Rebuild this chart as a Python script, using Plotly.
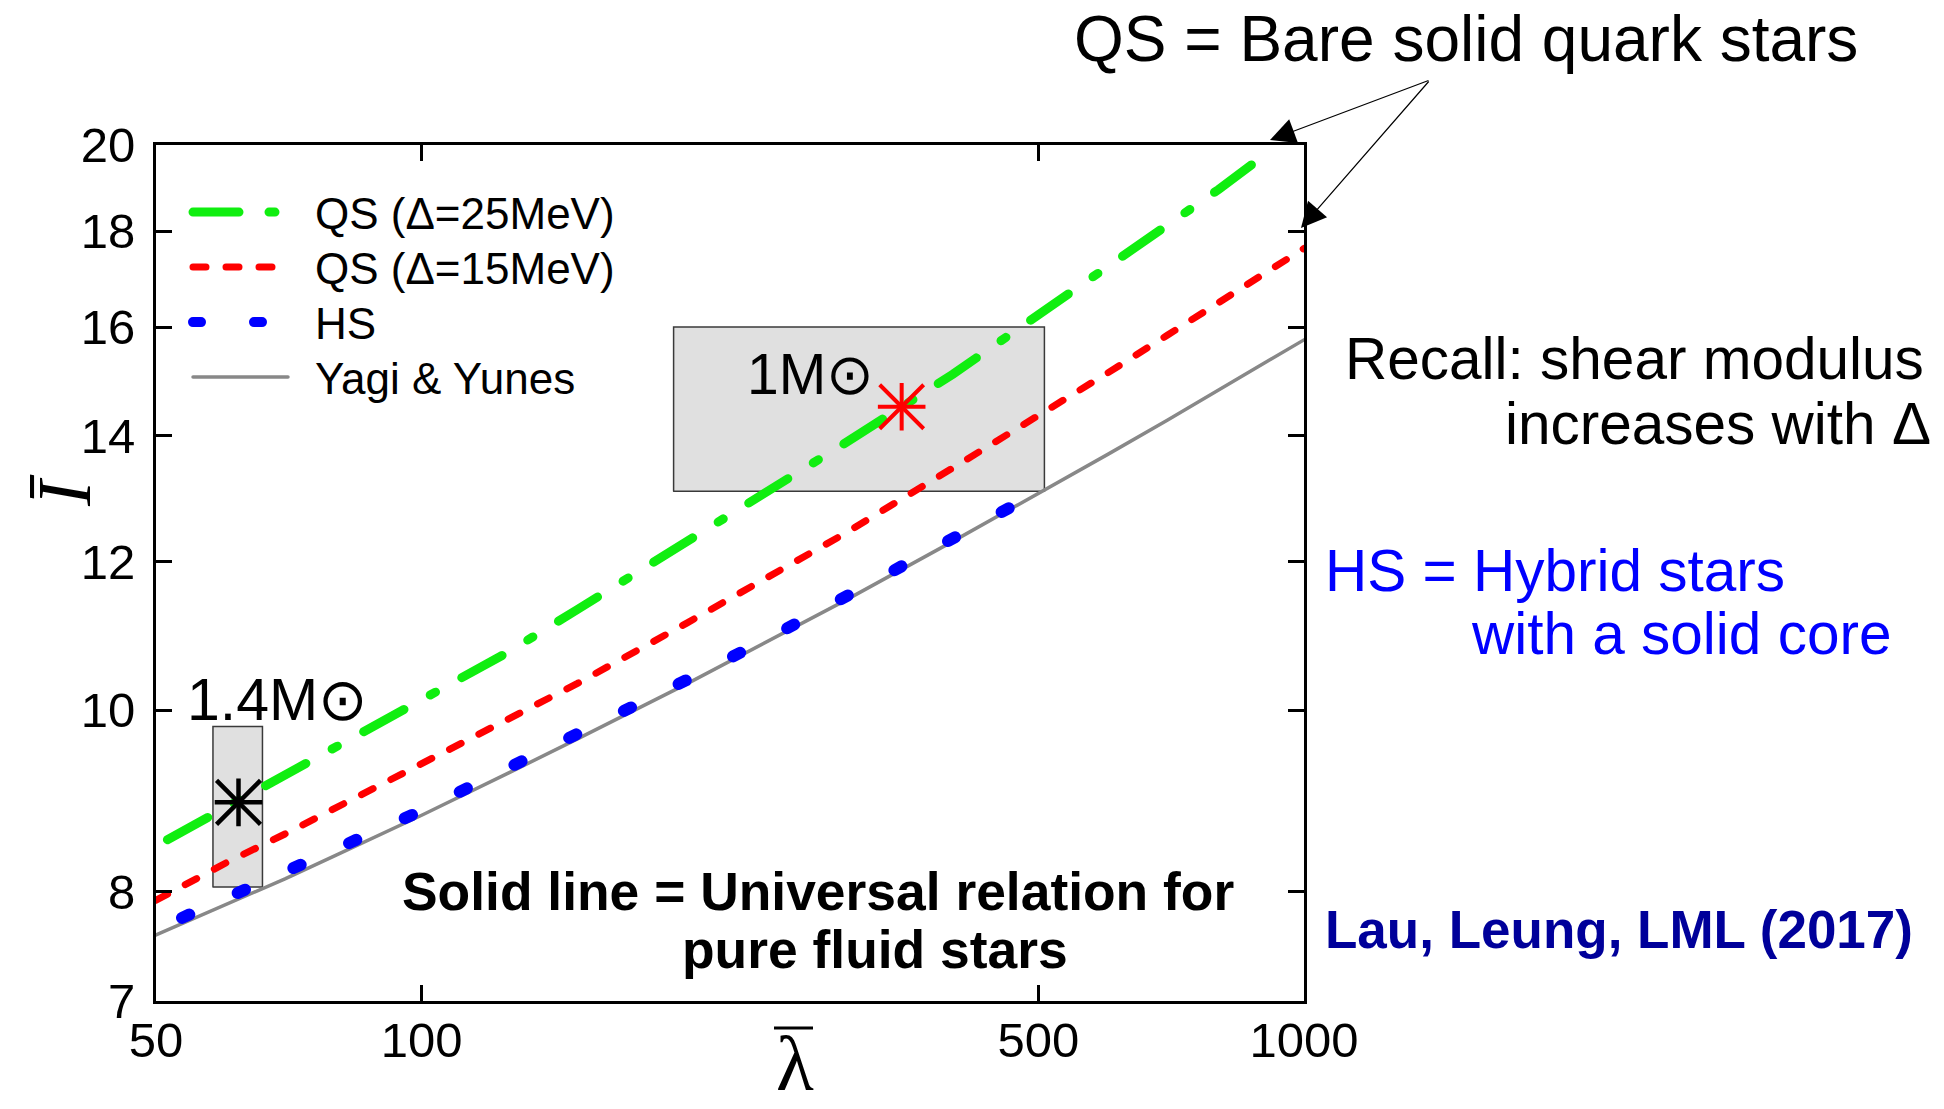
import math
import plotly.graph_objects as go

# ---------------------------------------------------------------------------
# Moment of inertia (I bar) versus tidal deformability (lambda bar)
# ---------------------------------------------------------------------------

# Yagi & Yunes universal relation for pure fluid stars
LAMBDA = [50, 60, 70, 80, 100, 125, 150, 200, 250, 300, 400, 500, 600, 700, 800, 900, 1000]
I_YY = [7.59, 7.88, 8.13, 8.37, 8.79, 9.25, 9.65, 10.33, 10.91, 11.42, 12.30, 13.04,
        13.69, 14.27, 14.80, 15.30, 15.75]

# Bare solid quark stars, gap 15 MeV
I_QS15 = [7.92, 8.29, 8.59, 8.87, 9.35, 9.87, 10.33, 11.13, 11.80, 12.40, 13.46, 14.34,
          15.13, 15.84, 16.49, 17.09, 17.62]

# Bare solid quark stars, gap 25 MeV
LAMBDA_QS25 = [51.5, 60, 70, 80, 100, 125, 150, 200, 250, 300, 400, 500, 600, 700, 800, 900, 925]
I_QS25 = [8.53, 8.87, 9.23, 9.56, 10.13, 10.73, 11.31, 12.29, 13.12, 13.85, 15.10, 16.25,
          17.22, 18.11, 18.94, 19.74, 19.93]

# Hybrid stars with a solid core
LAMBDA_HS = [53.5, 60, 70, 80, 100, 125, 150, 200, 250, 300, 400, 505]
I_HS = [7.75, 7.94, 8.19, 8.43, 8.84, 9.31, 9.70, 10.38, 10.95, 11.47, 12.34, 13.10]

# Canonical stars (1.4 and 1 solar masses) and their allowed regions
STAR_14 = dict(lam=[62], I=[8.93])
STAR_10 = dict(lam=[350], I=[14.51])
BOX_14 = dict(lam=[58, 66], I=[8.05, 9.8])
BOX_10 = dict(lam=[193, 508], I=[13.08, 16.0])

X_TICKS = [50, 100, 500, 1000]
Y_TICKS = [7, 8, 10, 12, 14, 16, 18, 20]

SERIES_NAMES = ["QS (Δ=25MeV)", "QS (Δ=15MeV)", "HS", "Yagi & Yunes"]

# ---------------------------------------------------------------------------
W, H = 1944, 1109
L, R, T, B = 156, 1304, 145, 1001          # plot area in pixels
SANS = "Liberation Sans, Arial, sans-serif"
SERIF = "Liberation Serif, Times New Roman, serif"


def px(x):
    return (x - L) / (R - L)


def py(y):
    return (B - y) / (B - T)


def box_trace(box):
    x0, x1 = box["lam"]
    y0, y1 = box["I"]
    return go.Scatter(
        x=[x0, x1, x1, x0, x0], y=[y0, y0, y1, y1, y0],
        mode="lines", fill="toself", fillcolor="#e0e0e0",
        line=dict(color="#3a3a3a", width=1.5),
        showlegend=False, hoverinfo="skip")


fig = go.Figure()
fig.add_trace(box_trace(BOX_14))
fig.add_trace(box_trace(BOX_10))

fig.add_trace(go.Scatter(x=LAMBDA, y=I_YY, mode="lines", name=SERIES_NAMES[3],
                         legendrank=4, line=dict(color="#888888", width=3.5)))
fig.add_trace(go.Scatter(x=LAMBDA_HS, y=I_HS, mode="lines", name=SERIES_NAMES[2],
                         legendrank=3,
                         line=dict(color="#0000ff", width=12, dash="8px,53px")))
fig.add_trace(go.Scatter(x=LAMBDA, y=I_QS15, mode="lines", name=SERIES_NAMES[1],
                         legendrank=2,
                         line=dict(color="#ff0000", width=7, dash="13px,20px")))
fig.add_trace(go.Scatter(x=LAMBDA_QS25, y=I_QS25, mode="lines", name=SERIES_NAMES[0],
                         legendrank=1,
                         line=dict(color="#10ee10", width=9, dash="46px,30px,6px,30px")))

# asterisk markers: straight arms plus diagonal arms
for star, col, lw in ((STAR_14, "black", 4.5), (STAR_10, "#ff0000", 4)):
    for symbol, size in (("cross-thin-open", 34), ("x-thin-open", 44)):
        fig.add_trace(go.Scatter(
            x=star["lam"], y=star["I"], mode="markers", showlegend=False,
            hoverinfo="skip",
            marker=dict(symbol=symbol, size=size, color=col,
                        line=dict(color=col, width=lw))))

axis_common = dict(
    type="log", showgrid=False, zeroline=False,
    showline=True, linecolor="black", linewidth=3, mirror="ticks",
    ticks="inside", ticklen=16, tickwidth=3, tickcolor="black",
    tickfont=dict(family=SANS, size=49, color="black"),
)
fig.update_xaxes(range=[math.log10(50) - 1e-4, math.log10(1000) + 1e-4],
                 tickvals=X_TICKS, ticktext=[str(v) for v in X_TICKS],
                 ticklabelstandoff=-6, **axis_common)
fig.update_yaxes(range=[math.log10(7) - 1e-4, math.log10(20) + 1e-4],
                 tickvals=Y_TICKS, ticktext=[str(v) for v in Y_TICKS],
                 ticklabelstandoff=8, **axis_common)


def label(text, x, y, size, xanchor="left", color="black", family=SANS, angle=0,
          yanchor="middle"):
    return dict(text=text, x=px(x), y=py(y), xref="paper", yref="paper",
                xanchor=xanchor, yanchor=yanchor, showarrow=False, textangle=angle,
                font=dict(family=family, size=size, color=color))


annotations = [
    label("QS = Bare solid quark stars", 1072, 39, 64),
    label("Recall: shear modulus", 1926, 358, 58.5, xanchor="right"),
    label("increases with Δ", 1933, 423, 58.5, xanchor="right"),
    label("HS = Hybrid stars", 1323, 570, 58.5, color="#0000ff"),
    label("with a solid core", 1469, 633, 58.5, color="#0000ff"),
    label("<b>Lau, Leung, LML (2017)</b>", 1323, 929, 53, color="#00009a"),
    label("<b>Solid line = Universal relation for</b>", 400, 891, 53.4),
    label("<b>pure fluid stars</b>", 680, 949, 53.4),
    label("1.4M⊙", 185, 700, 59),
    label("1M⊙", 745, 374, 57),
    label("<i>Ī</i>", 64, 491, 76, xanchor="center", family=SERIF, angle=-90),
    label("λ", 795, 1109, 78, xanchor="center", family=SERIF, yanchor="bottom"),
]

# arrows from the quark-star caption to the two quark-star curves
for tip_x, tip_y in ((1270, 140), (1301, 228)):
    annotations.append(dict(
        text="", x=px(tip_x), y=py(tip_y), xref="paper", yref="paper",
        showarrow=True, ax=1430 - tip_x, ay=80 - tip_y,
        arrowhead=2, arrowsize=4.2, arrowwidth=1.2, arrowcolor="black", standoff=0))

shapes = [
    # overbar of the lambda-bar axis title
    dict(type="line", xref="paper", yref="paper", x0=px(774), x1=px(813),
         y0=py(1028), y1=py(1028), line=dict(color="black", width=3)),
]

fig.update_layout(
    width=W, height=H,
    margin=dict(l=L, r=W - R, t=T, b=H - B, pad=0),
    paper_bgcolor="white", plot_bgcolor="white",
    font=dict(family=SANS, color="black"),
    showlegend=True,
    legend=dict(x=px(188), y=py(177), xanchor="left", yanchor="top",
                bgcolor="rgba(0,0,0,0)", borderwidth=0, itemwidth=117,
                font=dict(family=SANS, size=44, color="black"),
                tracegroupgap=0),
    annotations=annotations,
    shapes=shapes,
)

# round line caps, fixed legend key length and row pitch
post = """
var gd = document.getElementById('{plot_id}');
gd.querySelectorAll('.scatterlayer .js-line, .legendlines path').forEach(function (p) {
    p.style.strokeLinecap = 'round';
});
gd.querySelectorAll('.legendlines path').forEach(function (p) {
    var m = /M\\s*([-\\d.e]+)[ ,]+([-\\d.e]+)/.exec(p.getAttribute('d') || '');
    if (m) { p.setAttribute('d', 'M' + m[1] + ',' + m[2] + 'h95'); }
});
var y0 = null;
gd.querySelectorAll('.legend .traces').forEach(function (g, i) {
    var m = /translate\\(\\s*([-\\d.e]+)[ ,]+([-\\d.e]+)\\s*\\)/.exec(g.getAttribute('transform') || '');
    if (!m) { return; }
    if (y0 === null) { y0 = parseFloat(m[2]); }
    g.setAttribute('transform', 'translate(' + m[1] + ',' + (y0 + i * 55) + ')');
});
"""

fig.write_html("out.html", config={"displayModeBar": False}, post_script=post)
